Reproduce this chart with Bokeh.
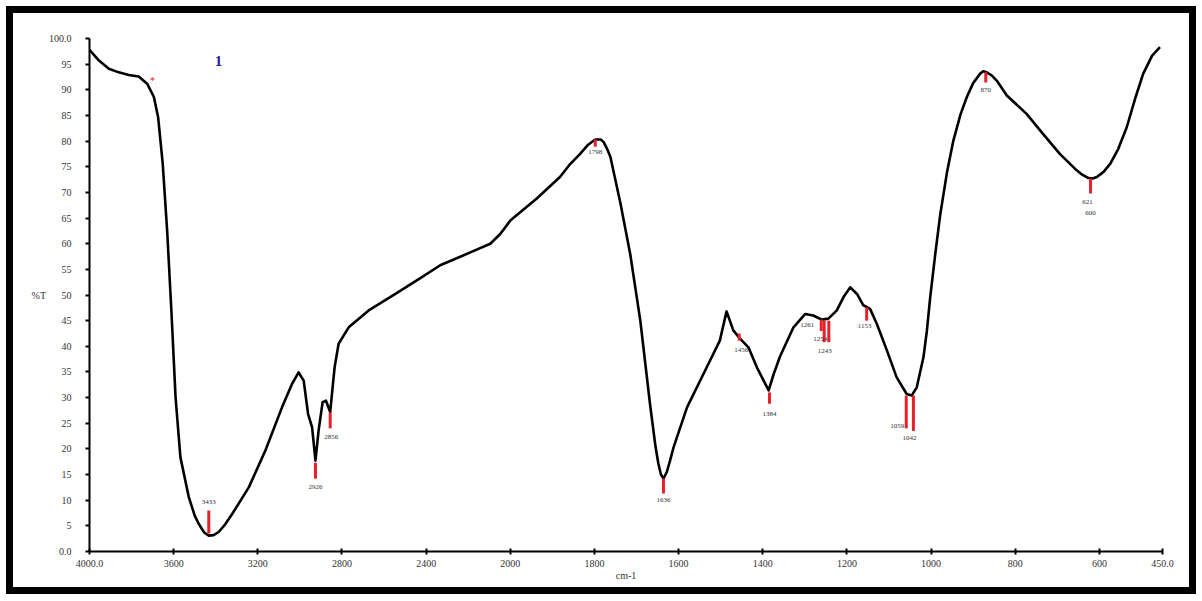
from bokeh.plotting import figure
from bokeh.models import FixedTicker, Label, ColumnDataSource, Range1d
from bokeh.embed import file_html
from bokeh.resources import INLINE
from bokeh.core.properties import value

# ---------------- data ----------------
wavenumber = [4000, 3955, 3908, 3861, 3813, 3766, 3726, 3694, 3674, 3652, 3631, 3610,
              3591, 3568, 3528, 3500, 3481, 3455, 3433, 3410, 3386, 3355, 3322, 3243,
              3164, 3085, 3037, 3006, 2982, 2961, 2942, 2926, 2911, 2892, 2876, 2856,
              2835, 2816, 2768, 2673, 2546, 2420, 2333, 2190, 2095, 2048, 2000, 1937,
              1882, 1860, 1834, 1815, 1798, 1785, 1778, 1770, 1762, 1738, 1715, 1691,
              1668, 1655, 1648, 1642, 1636, 1628, 1620, 1612, 1580, 1541, 1502, 1486,
              1470, 1454, 1434, 1414, 1386, 1374, 1359, 1327, 1299, 1280, 1260, 1244,
              1224, 1208, 1192, 1176, 1161, 1145, 1129, 1105, 1082, 1058, 1046, 1034,
              1018, 1010, 1002, 990, 978, 962, 947, 930, 915, 900, 884, 876, 868, 856,
              844, 820, 773, 734, 694, 654, 640, 626, 616, 606, 590, 574, 555, 535,
              515, 496, 475, 456]
transmittance = [97.8, 95.7, 94.1, 93.4, 92.9, 92.6, 91.2, 88.6, 84.7, 75.6, 62.6, 46.3,
                 30.1, 18.4, 10.6, 7.0, 5.4, 3.7, 3.1, 3.2, 3.8, 5.3, 7.3, 12.5,
                 19.7, 28.1, 32.7, 34.9, 33.3, 26.8, 24.2, 17.7, 23.6, 29.1, 29.4, 27.2,
                 35.9, 40.5, 43.7, 47.0, 50.2, 53.5, 55.8, 58.3, 60.0, 61.9, 64.5, 68.8,
                 73.0, 75.3, 77.5, 79.3, 80.3, 80.3, 79.8, 78.5, 76.9, 67.8, 58.0, 45.0,
                 28.8, 20.5, 17.1, 15.0, 14.2, 15.5, 17.8, 20.3, 28.1, 34.6, 41.1, 46.8,
                 43.1, 41.5, 39.8, 35.9, 31.4, 34.6, 38.0, 43.7, 46.3, 46.0, 45.2, 45.4,
                 47.0, 49.6, 51.5, 50.2, 48.0, 47.3, 44.4, 39.2, 34.0, 30.7, 30.4, 32.0,
                 37.9, 43.0, 49.6, 58.0, 65.8, 74.0, 80.1, 85.2, 88.6, 91.3, 93.1, 93.6, 93.4, 92.8,
                 91.8, 88.9, 85.3, 81.4, 77.5, 74.3, 73.4, 72.8, 72.7, 73.0, 74.0, 75.6, 78.5, 82.7,
                 88.3, 93.1, 96.6, 98.3]

x_tick_values = [4000, 3600, 3200, 2800, 2400, 2000, 1800, 1600, 1400, 1200, 1000, 800, 600, 450]
x_tick_labels = ["4000.0", "3600", "3200", "2800", "2400", "2000", "1800", "1600",
                 "1400", "1200", "1000", "800", "600", "450.0"]
y_tick_values = [0, 5, 10, 15, 20, 25, 30, 35, 40, 45, 50, 55, 60, 65, 70, 75, 80, 85, 90, 95, 100]
y_tick_labels = ["0.0", "5", "10", "15", "20", "25", "30", "35", "40", "45", "50", "55",
                 "60", "65", "70", "75", "80", "85", "90", "95", "100.0"]

peak_wavenumber = [3433, 2926, 2856, 1798, 1636, 1456, 1384, 1261, 1254, 1243, 1153,
                   1059, 1042, 870, 621, 600]
peak_label = ["3433", "2926", "2856", "1798", "1636", "1456", "1384", "1261", "1254",
              "1243", "1153", "1059", "1042", "870", "621", "600"]
# marker bar extent (%T) and label position (%T)
peak_bar_top = [8.0, 17.3, 27.1, 80.3, 14.2, 42.5, 31.0, 45.2, 45.0, 45.0, 47.6,
                30.4, 30.4, 93.4, 72.7, 72.7]
peak_bar_bottom = [3.5, 14.2, 24.0, 78.9, 11.3, 41.1, 28.8, 43.0, 40.8, 40.8, 45.0,
                   24.0, 23.5, 91.4, 69.8, 72.7]
peak_text_y = [9.6, 12.5, 22.4, 77.8, 10.1, 39.2, 26.9, 44.1, 41.5, 39.0, 43.9,
               24.4, 22.2, 89.9, 68.1, 65.9]
peak_text_dx = [0, 0, 1, 0, 0, 2, 0, -14, -4, -4, -2, -9, -4, 0, -3, -9]


# ---------------- abscissa: instrument scale change at 2000 cm-1 ----------------
def xt(w):
    if w >= 2000:
        return (4000 - w) / 400.0
    return 5 + (2000 - w) / 200.0


FONT = "Liberation Serif"
W, H = 1190, 588

p = figure(width=W, height=H, output_backend="svg", toolbar_location=None,
           x_range=Range1d(0, 12.75), y_range=Range1d(0, 100),
           min_border_left=76, min_border_right=41, min_border_top=25, min_border_bottom=50,
           styles={"border": "7px solid black", "margin-left": "6px", "margin-top": "6px"})
p.background_fill_color = "white"
p.border_fill_color = "white"
p.outline_line_color = None
p.grid.visible = False

# axes
p.xaxis.ticker = FixedTicker(ticks=[xt(w) for w in x_tick_values])
p.xaxis.major_label_overrides = {xt(w): lab for w, lab in zip(x_tick_values, x_tick_labels)}
p.yaxis.ticker = FixedTicker(ticks=y_tick_values)
p.yaxis.major_label_overrides = {v: lab for v, lab in zip(y_tick_values, y_tick_labels)}
for ax in (p.xaxis, p.yaxis):
    ax.axis_line_width = 2
    ax.axis_line_color = "black"
    ax.major_tick_line_width = 2
    ax.major_tick_line_color = "black"
    ax.minor_tick_line_color = None
    ax.major_label_text_font = FONT
    ax.major_label_text_font_size = "10px"
    ax.major_label_text_color = "#333333"
    ax.axis_label_text_font = FONT
    ax.axis_label_text_font_size = "10px"
    ax.axis_label_text_font_style = "normal"
    ax.axis_label_text_color = "#333333"
p.xaxis.major_tick_out = 3
p.xaxis.major_tick_in = 3
p.xaxis.major_label_standoff = 5
p.xaxis.axis_label = "cm-1"
p.xaxis.axis_label_standoff = 0
p.yaxis.major_tick_out = 4
p.yaxis.major_tick_in = 0
p.yaxis.major_label_standoff = 14
p.yaxis.axis_label = "%T"
p.yaxis.axis_label_orientation = "horizontal"
p.yaxis.axis_label_standoff = 0

# spectrum
src = ColumnDataSource(dict(x=[xt(w) for w in wavenumber], y=transmittance))
p.line("x", "y", source=src, line_color="black", line_width=2.6, line_join="round")

# peak markers
pk = ColumnDataSource(dict(
    x=[xt(w) for w in peak_wavenumber],
    top=peak_bar_top, bottom=peak_bar_bottom,
    ty=peak_text_y, dx=peak_text_dx, label=peak_label,
))
p.segment(x0="x", y0="top", x1="x", y1="bottom", source=pk,
          line_color="#e8202a", line_width=3, line_cap="butt")
p.text(x="x", y="ty", text="label", x_offset="dx", source=pk,
       text_font=value(FONT), text_font_size="7px", text_color="#333333",
       text_align="center", text_baseline="middle")

# small red asterisk marker and sample number
p.add_layout(Label(x=xt(3701), y=91.8, text="*", text_color="#e8202a",
                   text_font=FONT, text_font_size="10px",
                   text_align="center", text_baseline="middle"))
p.add_layout(Label(x=xt(3387), y=95.7, text="1", text_color="#1c1c9c",
                   text_font=FONT, text_font_size="15px", text_font_style="bold",
                   text_align="center", text_baseline="middle"))

open("out.html", "w").write(file_html(p, INLINE))
